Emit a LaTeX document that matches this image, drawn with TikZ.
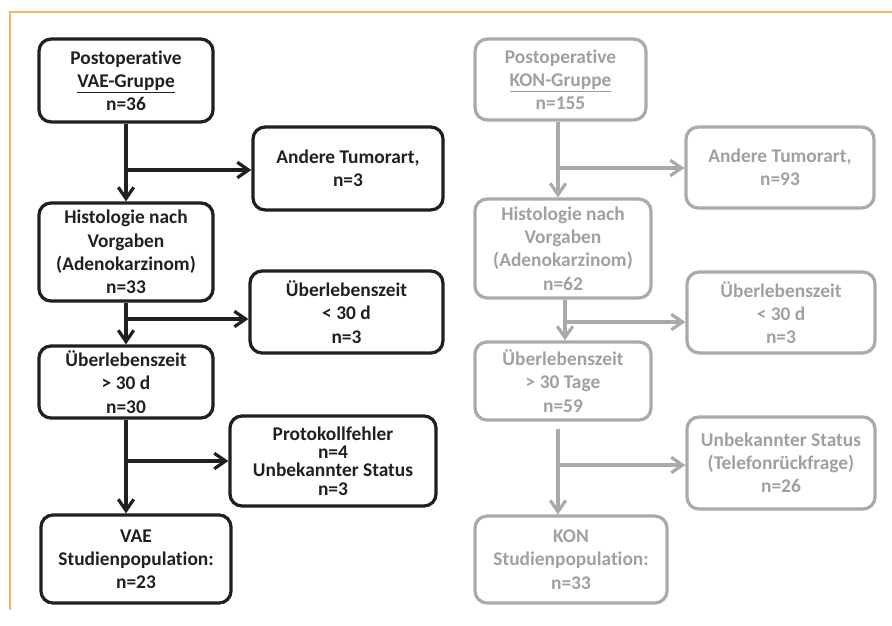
\documentclass[tikz,border=0pt]{standalone}
\usepackage{fontspec}
\setmainfont{Carlito}[Ligatures=NoCommon]
\usetikzlibrary{arrows.meta}
\definecolor{vaeline}{RGB}{35,31,32}
\definecolor{konline}{RGB}{170,170,170}
\definecolor{kontext}{RGB}{160,160,160}
\definecolor{rahmen}{RGB}{248,182,92}
\begin{document}
\begin{tikzpicture}[x=0.025cm, y=-0.025cm, font=\bfseries\fontsize{13.8}{16.5}\selectfont]

    % Stile fuer Kaesten und Pfeile
    \tikzset{
        vaebox/.style={draw=vaeline, text=vaeline, line width=2.3pt, rounded corners=0.3cm,
            align=center, inner sep=1pt},
        konbox/.style={vaebox, draw=konline, text=kontext},
        vaepfeil/.style={draw=vaeline, line width=2.3pt, -{Straight Barb[length=8pt,width=11pt]}},
        konpfeil/.style={vaepfeil, draw=konline}
    }

    % Rahmen
    \useasboundingbox (0,0) rectangle (892,625);
    \draw[rahmen, line width=1.1pt] (10,610) -- (10,12) -- (892,12);

    % VAE-Gruppe (links)
    \node[vaebox, minimum width=4.35cm, minimum height=2.07cm] (vstart) at (126,80.5)
        {Postoperative\\\underline{VAE-Gruppe}\\n=36};
    \node[vaebox, minimum width=4.75cm, minimum height=2.07cm] (vandere) at (348,168.5)
        {Andere Tumorart,\\n=3};
    \node[vaebox, minimum width=4.35cm, minimum height=2.45cm] (vhisto) at (126,252)
        {Histologie nach\\Vorgaben\\(Adenokarzinom)\\n=33};
    \node[vaebox, minimum width=4.82cm, minimum height=2.05cm] (vkurz) at (346.5,312)
        {Überlebenszeit\\< 30 d\\n=3};
    \node[vaebox, minimum width=4.35cm, minimum height=1.8cm] (vlang) at (126,382)
        {Überlebenszeit\\> 30 d\\n=30};
    \node[vaebox, minimum width=5.15cm, minimum height=2.25cm,
        font=\bfseries\fontsize{13.8}{13}\selectfont] (vproto) at (333,461)
        {Protokollfehler\\n=4\\Unbekannter Status\\n=3};
    \node[vaebox, minimum width=4.75cm, minimum height=2.2cm] (vende) at (136,559)
        {VAE\\Studienpopulation:\\n=23};

    \coordinate (vast1) at (127,170);
    \coordinate (vast2) at (127,319);
    \coordinate (vast3) at (127,461);
    \draw[vaepfeil] (vstart.south) -- (vstart.south |- vhisto.north);
    \draw[vaepfeil] (vhisto.south) -- (vhisto.south |- vlang.north);
    \draw[vaepfeil] (vlang.south) -- (vlang.south |- vende.north);
    \draw[vaepfeil] (vast1) -- (vast1 -| vandere.west);
    \draw[vaepfeil] (vast2) -- (vast2 -| vkurz.west);
    \draw[vaepfeil] (vast3) -- (vast3 -| vproto.west);

    % KON-Gruppe (rechts)
    \node[konbox, minimum width=4.27cm, minimum height=2.02cm] (kstart) at (560.5,79.5)
        {Postoperative\\\underline{KON-Gruppe}\\n=155};
    \node[konbox, minimum width=4.7cm, minimum height=2.02cm] (kandere) at (780,167.5)
        {Andere Tumorart,\\n=93};
    \node[konbox, minimum width=4.4cm, minimum height=2.47cm] (khisto) at (563,248.5)
        {Histologie nach\\Vorgaben\\(Adenokarzinom)\\n=62};
    \node[konbox, minimum width=4.7cm, minimum height=2.02cm] (kkurz) at (781,312.5)
        {Überlebenszeit\\< 30 d\\n=3};
    \node[konbox, minimum width=4.4cm, minimum height=1.95cm] (klang) at (563,381)
        {Überlebenszeit\\> 30 Tage\\n=59};
    \node[konbox, minimum width=4.7cm, minimum height=2.3cm] (kunbek) at (781,463)
        {Unbekannter Status\\(Telefonrückfrage)\\n=26};
    \node[konbox, minimum width=4.8cm, minimum height=2.17cm] (kende) at (571,559.5)
        {KON\\Studienpopulation:\\n=33};

    \coordinate (kast1) at (558,168);
    \coordinate (kast2) at (565,322);
    \coordinate (kast3) at (558,465);
    \draw[konpfeil] ([xshift=-2.5*0.025cm]kstart.south) -- ([xshift=-2.5*0.025cm]kstart.south |- khisto.north);
    \draw[konpfeil] ([xshift=2*0.025cm]khisto.south) -- ([xshift=2*0.025cm]khisto.south |- klang.north);
    \draw[konpfeil, shorten <=7*0.025cm] ([xshift=-5*0.025cm]klang.south) -- ([xshift=-5*0.025cm]klang.south |- kende.north);
    \draw[konpfeil] (kast1) -- (kast1 -| kandere.west);
    \draw[konpfeil] (kast2) -- (kast2 -| kkurz.west);
    \draw[konpfeil] (kast3) -- (kast3 -| kunbek.west);

\end{tikzpicture}
\end{document}
